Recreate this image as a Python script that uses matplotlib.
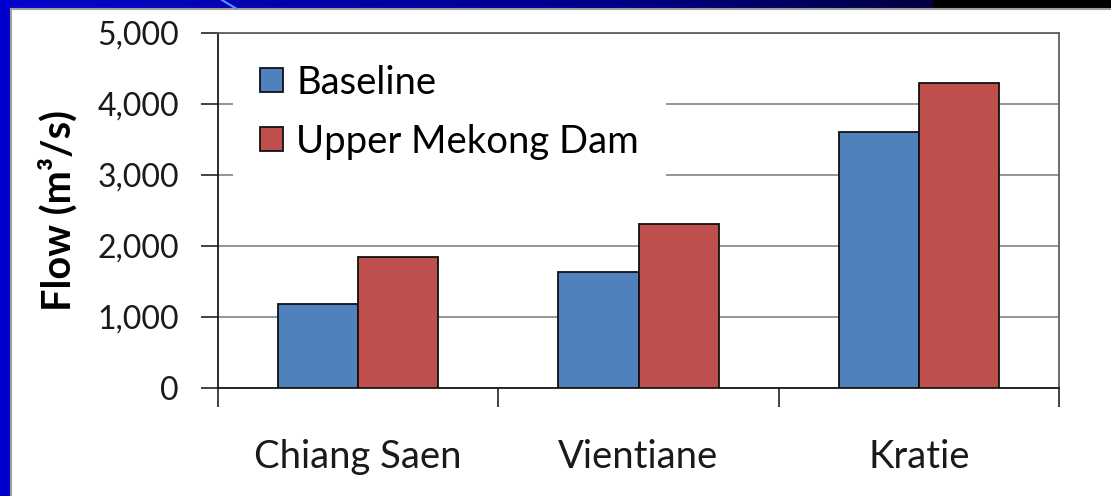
import numpy as np
import matplotlib.pyplot as plt
from matplotlib.patches import Rectangle
from matplotlib.lines import Line2D

plt.rcParams['font.family'] = ['Lato', 'DejaVu Sans']

# mean flow at each station
stations = ['Chiang Saen', 'Vientiane', 'Kratie']
baseline = [1180, 1630, 3610]
upper_dam = [1850, 2310, 4290]
series_names = ['Baseline', 'Upper Mekong Dam']
yticks = [0, 1000, 2000, 3000, 4000, 5000]

W, H = 1111, 496
fig = plt.figure(figsize=(W / 100, H / 100), dpi=100)
fig.patch.set_facecolor('white')

# slide frame: blue strip on the left, dark gradient along the top
bg = fig.add_axes([0, 0, 1, 1], zorder=-10)
bg.axis('off')
grad = np.linspace(0, 1, 256)[None, :]
top_cmap = plt.matplotlib.colors.LinearSegmentedColormap.from_list(
    'top', [(0, '#0606cc'), (0.55, '#00008a'), (0.84, '#000040'), (0.842, '#000000'), (1, '#000000')])
bg.imshow(grad, cmap=top_cmap, extent=[0, W, 8.5, 0], aspect='auto')
bg.add_patch(Rectangle((0, 0), 10.5, H, color='#0000cc', lw=0))
bg.add_line(Line2D([10.5, W], [9, 9], color='#a0a0a0', lw=1.5))
bg.add_line(Line2D([11, 11], [9, H], color='#a0a0a0', lw=1.5))
bg.add_line(Line2D([222, 236], [0, 8.5], color='#5f8fff', lw=1.5))
bg.set_xlim(0, W)
bg.set_ylim(H, 0)

ax = fig.add_axes([218 / W, 1 - 388 / H, (1059 - 218) / W, (388 - 33) / H])
x = np.arange(len(stations))
bw = 0.286
ax.bar(x - bw / 2, baseline, bw, color='#4f81bd', edgecolor='#111111', lw=1.3,
       label=series_names[0], zorder=3)
ax.bar(x + bw / 2, upper_dam, bw, color='#c0504d', edgecolor='#111111', lw=1.3,
       label=series_names[1], zorder=3)

ax.set_xlim(-0.5, len(stations) - 0.5)
ax.set_ylim(0, 5000)
ax.set_yticks(yticks)
ax.set_yticklabels([f'{v:,}' for v in yticks], fontsize=23, color='#1a1a1a')
ax.yaxis.grid(True, color='#8c8c8c', lw=1.3, zorder=0)
ax.set_axisbelow(True)

ax.set_xticks(np.arange(len(stations) + 1) - 0.5)
ax.set_xticklabels([])
ax.set_xticks(x, minor=True)
ax.set_xticklabels(stations, minor=True, fontsize=27.5, color='#1a1a1a')
ax.tick_params(axis='x', which='major', length=14, width=1.2, color='#222222')
ax.tick_params(axis='x', which='minor', length=0, pad=37)
ax.tick_params(axis='y', length=12, width=1.2, color='#222222', pad=16)

for side in ['left', 'bottom']:
    ax.spines[side].set_color('#1a1a1a')
    ax.spines[side].set_linewidth(1.3)
for side in ['top', 'right']:
    ax.spines[side].set_color('#606060')
    ax.spines[side].set_linewidth(1.3)

ax.set_ylabel('Flow (m³/s)', fontsize=28.5, fontweight='bold', labelpad=14)

leg = ax.legend(loc='upper left', bbox_to_anchor=(0.0178, 0.986), fontsize=27.5,
                frameon=True, fancybox=False, handlelength=0.6, handleheight=0.6,
                handletextpad=0.36, labelspacing=0.6, borderpad=0.7, borderaxespad=0)
leg.get_frame().set_facecolor('white')
leg.get_frame().set_edgecolor('none')
leg.get_frame().set_alpha(1)
leg.set_zorder(5)

fig.savefig('out.png', dpi=100)
